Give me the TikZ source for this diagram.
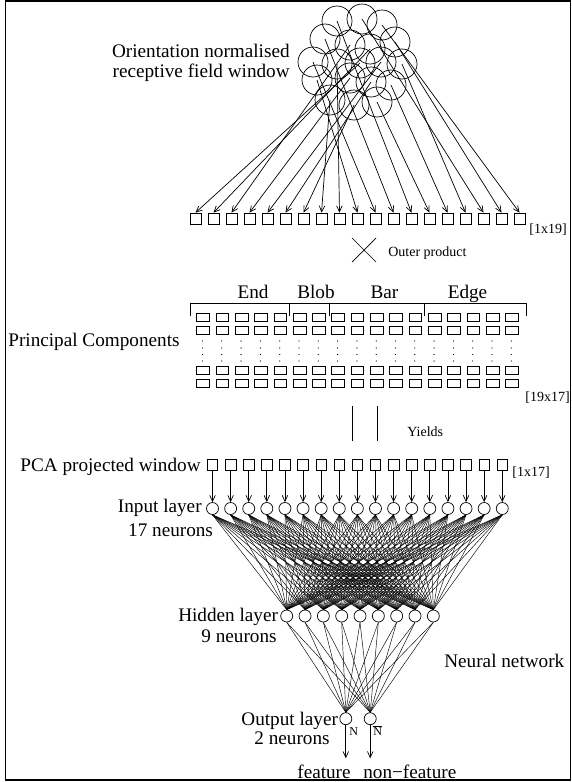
\documentclass[tikz,border=0pt]{standalone}
\usepackage{fontspec}
\setmainfont{Liberation Serif}
\usetikzlibrary{arrows.meta}
\begin{document}
\begin{tikzpicture}[x=1pt,y=-1pt,line width=0.7pt,
  lbl/.style={font=\fontsize{19.2}{23}\selectfont,inner sep=0pt},
  slbl/.style={font=\fontsize{14}{16}\selectfont,inner sep=0pt},
  tlbl/.style={font=\fontsize{12}{14}\selectfont,inner sep=0pt},
  sqbox/.style={draw,minimum width=11pt,minimum height=11pt,inner sep=0pt},
  psqbox/.style={draw,minimum width=10.5pt,minimum height=10.5pt,inner sep=0pt},
  rcbox/.style={draw,minimum width=12.7pt,minimum height=8pt,inner sep=0pt},
  neuron/.style={draw,circle,minimum size=12pt,inner sep=0pt},
  rfield/.style={draw,circle,minimum size=30pt,inner sep=0pt},
  arr/.style={-{Straight Barb[length=6pt,width=5.5pt]}},
  conn/.style={line width=0.45pt}]
\useasboundingbox (0,0) rectangle (572,782);
\draw[line width=1.3pt] (5.5,1) rectangle (570.5,780);

% receptive field circles
\foreach \n/\cx/\cy in {A1/337/21,A2/362/19,A3/382/25,
  B1/325/39,B2/350/45,B3/370/49,B4/395/42,
  C1/313/62,C2/337/64,C3/360/63,C4/381/62,C5/402/64,
  D1/317/80,D2/350/78,D3/371/82,D4/391/85,
  E1/330/100,E2/354/105,E3/377/102}
  \node[rfield] (rf\n) at (\cx,\cy) {};

% 1x19 vector
\foreach \k in {0,...,18}
  \node[sqbox] (t\k) at ({195.5+18*\k},218.5) {};

\foreach \n/\t in {C3/0,B3/1,B2/2,D2/3,C4/4,D3/5,E2/6,E1/7,C2/8,D1/9,
  C1/10,B1/11,A1/12,E3/13,D4/14,C5/15,A2/16,B4/17,A3/18}
  \draw[arr] (rf\n.center) -- (t\t.north);

\node[lbl,anchor=base east] (lrf1) at (290,57) {Orientation normalised};
\node[lbl,anchor=base east] (lrf2) at (290,77.5) {receptive field window};
\node[slbl,anchor=base west] (l119) at (529,233) {[1x19]};

% outer product
\draw (352,238) -- (376,262);
\draw (352,262) -- (376,238);
\node[slbl,anchor=base west] (lop) at (388,256) {Outer product};

% brackets
\draw (190,316) -- (190,303) -- (526,303) -- (526,316);
\foreach \x in {289,329,424} \draw (\x,303) -- (\x,316);
\node[lbl,anchor=base] (lend) at (253,298.3) {End};
\node[lbl,anchor=base] (lblob) at (316,298.3) {Blob};
\node[lbl,anchor=base] (lbar) at (384.5,298.3) {Bar};
\node[lbl,anchor=base] (ledge) at (467.5,298.3) {Edge};

% principal components matrix
\foreach \k in {0,...,16} {
  \foreach \r/\y in {a/317,b/330,c/370.5,d/383.5}
    \node[rcbox] (m\r\k) at ({203+19.3*\k},\y) {};
  \foreach \y in {341,348,354.5,361}
    \fill ({202.5+19.3*\k},\y) circle (0.65pt);
}
\node[lbl,anchor=base west] (lpc) at (8,346) {Principal Components};
\node[slbl,anchor=base west] (l1917) at (525,401) {[19x17]};

% yields
\draw (352,406) -- (352,441);
\draw (377,406) -- (377,441);
\node[slbl,anchor=base west] (lyi) at (407,436) {Yields};

% PCA projected window and input layer
\foreach \k in {0,...,16} {
  \node[psqbox] (p\k) at ({212.5+18.11*\k},464.7) {};
  \node[neuron] (i\k) at ({212.5+18.11*\k},508.5) {};
  \draw[arr] (p\k.south) -- (i\k.north);
}
\node[lbl,anchor=base east] (lpca) at (201,471) {PCA projected window};
\node[slbl,anchor=base west] (l117) at (512,476) {[1x17]};

% hidden layer
\foreach \j in {0,...,8}
  \node[neuron] (h\j) at ({286.7+18.33*\j},616) {};
\foreach \k in {0,...,16}
  \foreach \j in {0,...,8}
    \draw[conn] (i\k.south) -- (h\j.north);

% output layer
\node[neuron] (o0) at (345.8,718.7) {};
\node[neuron] (o1) at (370.2,718.7) {};
\foreach \j in {0,...,8} {
  \draw[conn] (h\j.south) -- (o0.north);
  \draw[conn] (h\j.south) -- (o1.north);
}
\coordinate (f0) at (345.8,758.3);
\coordinate (f1) at (370.2,758.3);
\draw[arr] (o0.south) -- (f0);
\draw[arr] (o1.south) -- (f1);
\node[tlbl,anchor=base west] (ln) at (349,735) {N};
\node[tlbl,anchor=base west] (lnb) at (373,735) {$\overline{\hbox{N}}$};

\node[lbl,anchor=base east] (lin1) at (202,512) {Input layer};
\node[lbl,anchor=base east] (lin2) at (213.3,536) {17 neurons};
\node[lbl,anchor=base east] (lhid1) at (278.3,621) {Hidden layer};
\node[lbl,anchor=base east] (lhid2) at (277,642) {9 neurons};
\node[lbl,anchor=base west] (lnn) at (444,667) {Neural network};
\node[lbl,anchor=base east] (lout1) at (338.3,725) {Output layer};
\node[lbl,anchor=base east] (lout2) at (330,744.5) {2 neurons};
\node[lbl,anchor=base] (lfeat) at (324,778) {feature};
\node[lbl,anchor=base west] (lnfeat) at (363,778) {non−feature};
\end{tikzpicture}
\end{document}
